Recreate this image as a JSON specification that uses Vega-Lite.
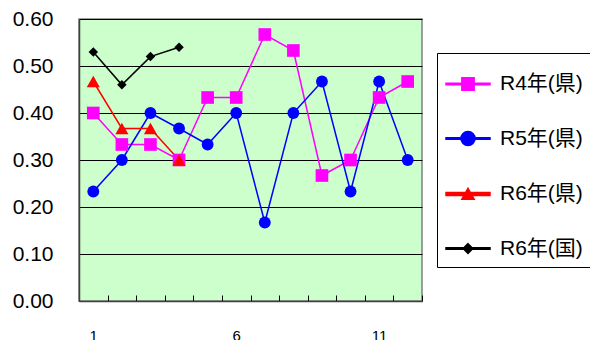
{
  "$schema": "https://vega.github.io/schema/vega-lite/v6.json",
  "width": 343,
  "height": 282,
  "autosize": {"type": "none"},
  "padding": {"left": 79, "top": 19, "right": 168, "bottom": 39},
  "background": "white",
  "config": {
    "font": "Liberation Sans, Noto Sans CJK JP",
    "view": {"fill": "#CCFFCC", "stroke": "#808080", "strokeWidth": 1.5}
  },
  "data": {
    "values": [
      {"series": "R4年(県)", "month": 1, "value": 0.400},
      {"series": "R4年(県)", "month": 2, "value": 0.333},
      {"series": "R4年(県)", "month": 3, "value": 0.333},
      {"series": "R4年(県)", "month": 4, "value": 0.300},
      {"series": "R4年(県)", "month": 5, "value": 0.433},
      {"series": "R4年(県)", "month": 6, "value": 0.433},
      {"series": "R4年(県)", "month": 7, "value": 0.567},
      {"series": "R4年(県)", "month": 8, "value": 0.533},
      {"series": "R4年(県)", "month": 9, "value": 0.267},
      {"series": "R4年(県)", "month": 10, "value": 0.300},
      {"series": "R4年(県)", "month": 11, "value": 0.433},
      {"series": "R4年(県)", "month": 12, "value": 0.467},
      {"series": "R5年(県)", "month": 1, "value": 0.233},
      {"series": "R5年(県)", "month": 2, "value": 0.300},
      {"series": "R5年(県)", "month": 3, "value": 0.400},
      {"series": "R5年(県)", "month": 4, "value": 0.367},
      {"series": "R5年(県)", "month": 5, "value": 0.333},
      {"series": "R5年(県)", "month": 6, "value": 0.400},
      {"series": "R5年(県)", "month": 7, "value": 0.167},
      {"series": "R5年(県)", "month": 8, "value": 0.400},
      {"series": "R5年(県)", "month": 9, "value": 0.467},
      {"series": "R5年(県)", "month": 10, "value": 0.233},
      {"series": "R5年(県)", "month": 11, "value": 0.467},
      {"series": "R5年(県)", "month": 12, "value": 0.300},
      {"series": "R6年(県)", "month": 1, "value": 0.467},
      {"series": "R6年(県)", "month": 2, "value": 0.367},
      {"series": "R6年(県)", "month": 3, "value": 0.367},
      {"series": "R6年(県)", "month": 4, "value": 0.300},
      {"series": "R6年(国)", "month": 1, "value": 0.53},
      {"series": "R6年(国)", "month": 2, "value": 0.46},
      {"series": "R6年(国)", "month": 3, "value": 0.52},
      {"series": "R6年(国)", "month": 4, "value": 0.54}
    ]
  },
  "encoding": {
    "x": {
      "field": "month",
      "type": "ordinal",
      "scale": {"type": "band", "paddingInner": 0, "paddingOuter": 0, "domain": [1,2,3,4,5,6,7,8,9,10,11,12]},
      "axis": {
        "title": null,
        "labelAngle": 0,
        "labelExpr": "indexof([1,6,11], datum.value) >= 0 ? datum.label : ''",
        "tickBand": "extent",
        "tickSize": -6,
        "tickColor": "#000000",
        "tickWidth": 1,
        "domainColor": "#404040",
        "domainWidth": 1.5,
        "grid": false,
        "labelFontSize": 15,
        "labelColor": "#000000",
        "labelPadding": 33
      }
    },
    "y": {
      "field": "value",
      "type": "quantitative",
      "scale": {"domain": [0, 0.6]},
      "axis": {
        "title": null,
        "values": [0, 0.1, 0.2, 0.3, 0.4, 0.5, 0.6],
        "format": ".2f",
        "ticks": false,
        "labelFontSize": 21,
        "labelColor": "#000000",
        "labelPadding": 26,
        "domainColor": "#404040",
        "domainWidth": 1.5,
        "gridColor": "#000000",
        "gridWidth": 1,
        "gridOpacity": 1
      }
    }
  },
  "layer": [
    {
      "mark": {"type": "line"},
      "encoding": {
        "color": {
          "field": "series",
          "type": "nominal",
          "scale": {
            "domain": ["R4年(県)", "R5年(県)", "R6年(県)", "R6年(国)"],
            "range": ["#FF00FF", "#0000FF", "#FF0000", "#000000"]
          },
          "legend": {
            "title": null,
            "orient": "none",
            "legendX": 358,
            "legendY": 34,
            "padding": 8,
            "strokeColor": "#000000",
            "fillColor": "#FFFFFF",
            "symbolSize": 1936,
            "symbolStrokeWidth": 0,
            "labelFontSize": 21,
            "labelColor": "#000000",
            "labelOffset": 9,
            "labelLimit": 200,
            "rowPadding": 21.5,
            "encode": {
              "symbols": {
                "update": {
                  "shape": {"signal": "datum.value == 'R4年(県)' ? 'M-1,-0.035H1V0.035H-1Z M-0.28,-0.28H0.28V0.28H-0.28Z' : datum.value == 'R5年(県)' ? 'M-1,-0.035H1V0.035H-1Z M-0.32,0A0.32,0.32 0 1,1 0.32,0A0.32,0.32 0 1,1 -0.32,0Z' : datum.value == 'R6年(県)' ? 'M-1,-0.07H1V0.07H-1Z M0,-0.26L0.28,0.24H-0.28Z' : 'M-1,-0.03H1V0.03H-1Z M0,-0.22L0.22,0L0,0.22L-0.22,0Z'"},
                  "size": {"value": 1936},
                  "fill": {"signal": "scale('color', datum.value)"},
                  "stroke": {"value": "transparent"},
                  "strokeWidth": {"value": 0},
                  "opacity": {"value": 1},
                  "fillOpacity": {"value": 1}
                }
              }
            }
          }
        },
        "strokeWidth": {
          "field": "series",
          "type": "nominal",
          "scale": {"domain": ["R4年(県)", "R5年(県)", "R6年(県)", "R6年(国)"], "range": [1.5, 1.5, 3.5, 1.5]},
          "legend": null
        }
      }
    },
    {
      "transform": [{"filter": "datum.series == 'R4年(県)'"}],
      "mark": {"type": "point", "filled": true, "opacity": 1, "shape": "square", "size": 160, "color": "#FF00FF"}
    },
    {
      "transform": [{"filter": "datum.series == 'R5年(県)'"}],
      "mark": {"type": "point", "filled": true, "opacity": 1, "shape": "circle", "size": 140, "color": "#0000FF"}
    },
    {
      "transform": [{"filter": "datum.series == 'R6年(県)'"}],
      "mark": {"type": "point", "filled": true, "opacity": 1, "shape": "triangle-up", "size": 170, "color": "#FF0000"}
    },
    {
      "transform": [{"filter": "datum.series == 'R6年(国)'"}],
      "mark": {"type": "point", "filled": true, "opacity": 1, "shape": "diamond", "size": 90, "color": "#000000"}
    }
  ]
}
